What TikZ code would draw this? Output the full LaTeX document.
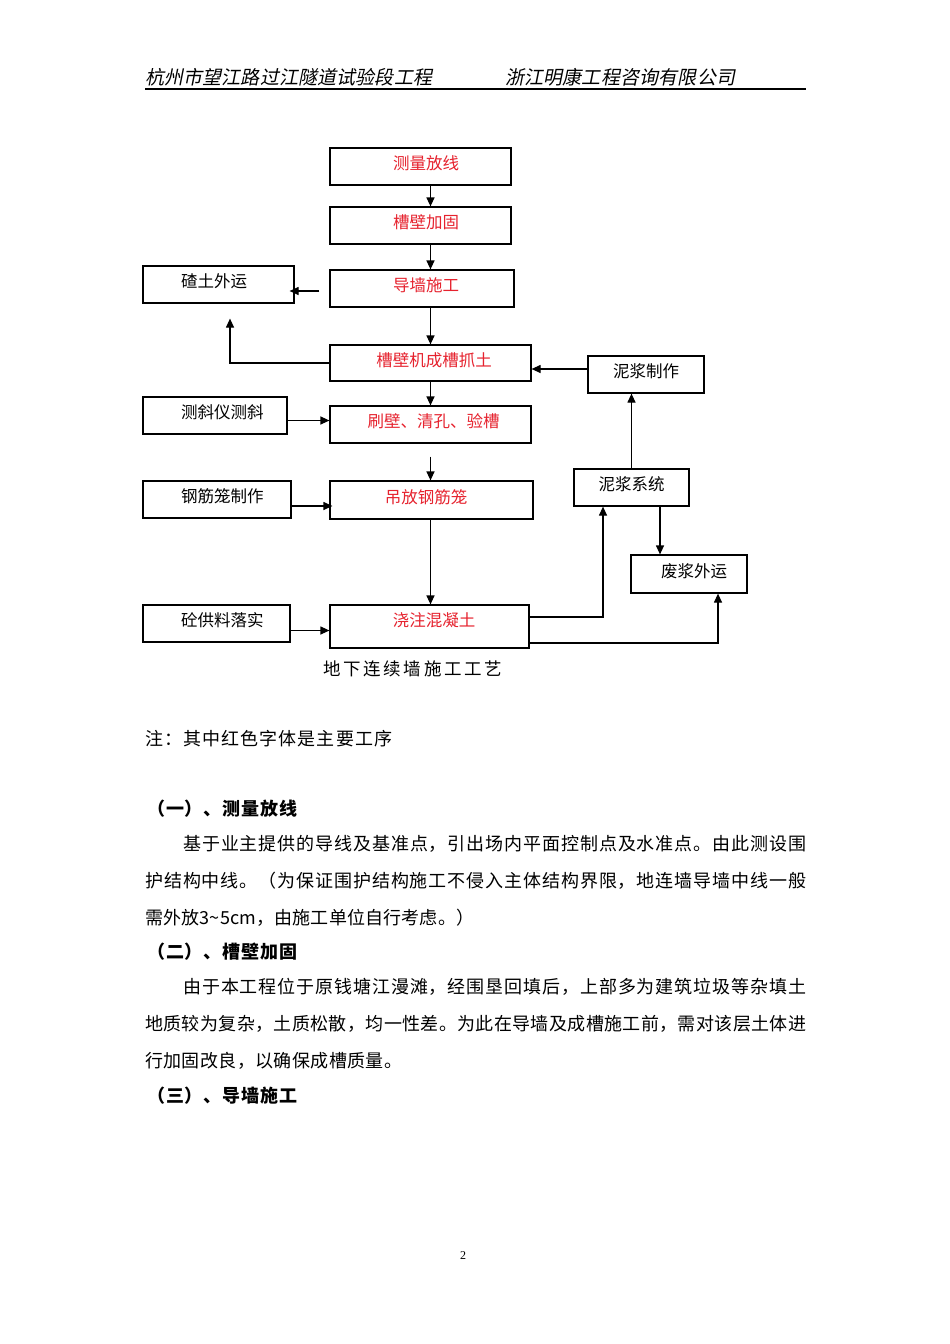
\documentclass[tikz,border=0pt]{standalone}
\usepackage{fontspec}
\setmainfont{Noto Sans CJK SC}
\newfontfamily\headfont[FakeSlant=0.2]{Noto Sans CJK SC}
\newfontfamily\numfont{Liberation Serif}
\usepackage{xcolor}
\usetikzlibrary{arrows.meta}
\definecolor{stepred}{RGB}{230,34,46}
% spread the characters of a line over a given width
\makeatletter
\newcommand{\spreadline}[2]{\hbox to #1{\@tfor\sp@char:=#2\do{\sp@char\hfil}\unskip}}
\makeatother
\tikzset{box/.style={draw, line width=1.2pt, inner sep=0, text height=12pt, text depth=6pt, font=\fontsize{16.5}{18}\selectfont}}
\tikzset{main box/.style={box, text=stepred}}
\tikzset{side box/.style={box, align=left, execute at begin node=\hspace*{38pt}}}
\tikzset{flow/.style={draw, line width=1.2pt, -{Triangle[length=9pt,width=8pt]}}}
\tikzset{head/.style={anchor=west, inner sep=0, font=\headfont\fontsize{19}{20}\selectfont}}
\tikzset{body/.style={anchor=west, inner sep=0, font=\fontsize{18}{20}\selectfont}}
\tikzset{title/.style={body, font=\fontsize{18}{20}\selectfont\bfseries}}

\begin{document}
\begin{tikzpicture}[x=1pt, y=-1pt]
  \useasboundingbox[fill=white] (0,0) rectangle (950,1344);

  % page header
  \node[head] (hleft) at (145,77) {\spreadline{287pt}{杭州市望江路过江隧道试验段工程}};
  \node[head] (hright) at (505,77) {\spreadline{230pt}{浙江明康工程咨询有限公司}};
  \draw[line width=1.4pt] (145,89) -- (806,89);

  % main steps
  \node[main box, minimum width=181pt, minimum height=37pt] at (420.5,166.5) (fangxian) {\hspace*{11pt}测量放线};
  \node[main box, minimum width=181pt, minimum height=37pt] at (420.5,225.5) (jiagu) {\hspace*{11pt}槽壁加固};
  \node[main box, minimum width=184pt, minimum height=37pt] at (422,288.5) (daoqiang) {\hspace*{8pt}导墙施工};
  \node[main box, minimum width=201pt, minimum height=36pt] at (430.5,363) (chengcao) {\hspace*{7pt}槽壁机成槽抓土};
  \node[main box, minimum width=201pt, minimum height=37pt] at (430.5,424.5) (shuabi) {\hspace*{6pt}刷壁、清孔、验槽};
  \node[main box, minimum width=203pt, minimum height=38pt] at (431.5,500) (diaofang) {吊放钢筋笼\hspace*{11pt}};
  \node[main box, minimum width=199pt, minimum height=43pt, text depth=12pt] at (429.5,626.5) (jiaozhu) {\hspace*{9pt}浇注混凝土};

  % side steps
  \node[side box, text width=151pt, minimum height=37pt] at (218.5,284.5) (zhatu) {碴土外运};
  \node[side box, text width=144pt, minimum height=37pt] at (215,415.5) (cexie) {测斜仪测斜};
  \node[side box, text width=148pt, minimum height=37pt] at (217,499.5) (ganglong) {钢筋笼制作};
  \node[side box, text width=147pt, minimum height=37pt] at (216.5,623.5) (tonggong) {砼供料落实};
  \node[box, minimum width=116pt, minimum height=37pt] at (646,374.5) (nizhi) {泥浆制作};
  \node[box, minimum width=115pt, minimum height=37pt] at (631.5,487.5) (nixi) {泥浆系统};
  \node[box, minimum width=116pt, minimum height=38pt] at (689,574) (feijiang) {\hspace*{10pt}废浆外运};

  % arrows
  \draw[flow] (fangxian.south -| chengcao) -- (jiagu.north -| chengcao);
  \draw[flow] (jiagu.south -| chengcao) -- (daoqiang.north -| chengcao);
  \draw[flow] (daoqiang.south -| chengcao) -- (chengcao.north);
  \coordinate (dq) at ([yshift=-2.5pt]daoqiang.west);
  \draw[flow, shorten <=10pt, shorten >=-5pt] (dq) -- (dq -| zhatu.east);
  \draw[flow, shorten >=15pt] (chengcao.west) -| ([xshift=11.5pt]zhatu.south);
  \coordinate (nz) at ([yshift=5.5pt]nizhi.west);
  \draw[flow] (nz) -- (nz -| chengcao.east);
  \draw[flow] (chengcao.south) -- (shuabi.north);
  \coordinate (cx) at ([yshift=-5pt]cexie.east);
  \draw[flow] (cx) -- (cx -| shuabi.west);
  \draw[flow, shorten <=13pt] (shuabi.south) -- (shuabi.south |- diaofang.north);
  \coordinate (gl) at ([yshift=-6.5pt]ganglong.east);
  \draw[flow, shorten >=-3pt] (gl) -- (gl -| diaofang.west);
  \draw[flow] (diaofang.south -| chengcao) -- (jiaozhu.north -| chengcao);
  \coordinate (tg) at ([yshift=-7pt]tonggong.east);
  \draw[flow] (tg) -- (tg -| jiaozhu.west);
  \draw[flow] ([yshift=9.5pt]jiaozhu.east) -| ([xshift=-28.5pt]nixi.south);
  \draw[flow] ([yshift=-16.5pt]jiaozhu.east) -| ([xshift=29pt]feijiang.south);
  \draw[flow] (nixi.north) -- (nixi.north |- nizhi.south);
  \coordinate (nx) at ([xshift=28.5pt]nixi.south);
  \draw[flow] (nx) -- (nx |- feijiang.north);

  \node[body, font=\fontsize{17.5}{20}\selectfont] (caption) at (323,669) {\spreadline{179pt}{地下连续墙施工工艺}};

  % text below the chart
  \node[body] (note) at (145,739) {\spreadline{247pt}{注：其中红色字体是主要工序}};
  \node[title] (sec1) at (147,809) {\spreadline{150pt}{（一）、测量放线}};
  \node[body] (p1a) at (183,844) {\spreadline{623pt}{基于业主提供的导线及基准点，引出场内平面控制点及水准点。由此测设围}};
  \node[body] (p1b) at (145,881) {\spreadline{661pt}{护结构中线。（为保证围护结构施工不侵入主体结构界限，地连墙导墙中线一般}};
  \node[body] (p1c) at (145,918) {\spreadline{329pt}{需外放3{\textasciitilde}5cm，由施工单位自行考虑。）}};
  \node[title] (sec2) at (147,952) {\spreadline{150pt}{（二）、槽壁加固}};
  \node[body] (p2a) at (183,987) {\spreadline{623pt}{由于本工程位于原钱塘江漫滩，经围垦回填后，上部多为建筑垃圾等杂填土}};
  \node[body] (p2b) at (145,1024) {\spreadline{661pt}{地质较为复杂，土质松散，均一性差。为此在导墙及成槽施工前，需对该层土体进}};
  \node[body] (p2c) at (145,1061) {\spreadline{257pt}{行加固改良，以确保成槽质量。}};
  \node[title] (sec3) at (147,1096) {\spreadline{150pt}{（三）、导墙施工}};

  \node[inner sep=0, font=\numfont\fontsize{12}{14}\selectfont] (pageno) at (463,1256) {2};
\end{tikzpicture}
\end{document}
